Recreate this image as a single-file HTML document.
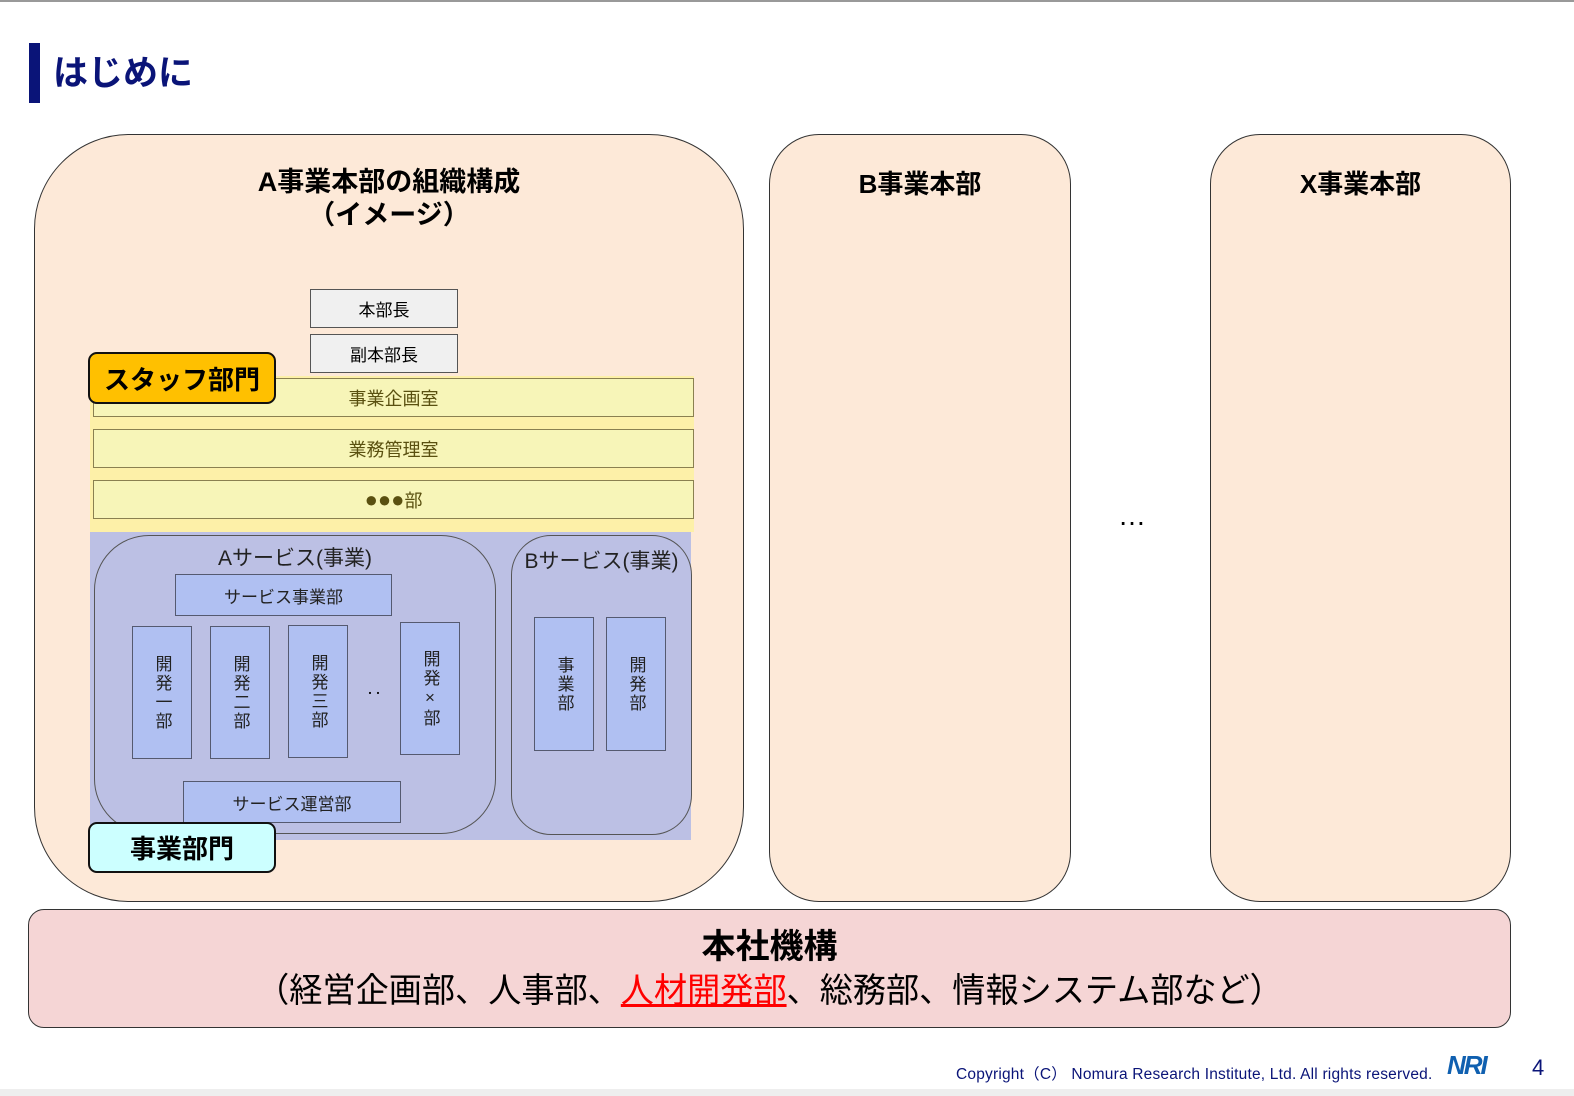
<!DOCTYPE html>
<html><head><meta charset="utf-8"><style>
body{margin:0;width:1574px;height:1096px;position:relative;background:#fff;font-family:"Liberation Sans","Noto Sans CJK JP",sans-serif;overflow:hidden}
div{position:absolute;box-sizing:border-box}
.c{display:flex;align-items:center;justify-content:center;text-align:center}
.bx{background:#b0c0f2;border:1.5px solid #555a70;font-size:17px;color:#222}
.v{writing-mode:vertical-rl;letter-spacing:2px}
.y{background:#f7f5b8;border:1.5px solid #8a8050;color:#5a5010;font-size:18px}
</style></head><body>
<div style="left:0;top:0;width:1574px;height:2px;background:#999"></div>
<div style="left:0;top:1089px;width:1574px;height:7px;background:#eee"></div>
<div style="left:29px;top:43px;width:11px;height:60px;background:#0a1478"></div>
<div style="left:53px;top:48px;font-size:35px;font-weight:bold;color:#0a1478;line-height:52px">はじめに</div>

<div style="left:34px;top:134px;width:710px;height:768px;border-radius:95px;background:#fde9d8;border:1.5px solid #333"></div>
<div class="c" style="left:34px;top:166px;width:710px;font-size:27px;font-weight:bold;line-height:33px;flex-direction:column">A事業本部の組織構成<br>（イメージ）</div>
<div style="left:769px;top:134px;width:302px;height:768px;border-radius:50px;background:#fde9d8;border:1.5px solid #333"></div>
<div class="c" style="left:769px;top:166px;width:302px;font-size:26px;font-weight:bold;line-height:36px">B事業本部</div>
<div style="left:1210px;top:134px;width:301px;height:768px;border-radius:50px;background:#fde9d8;border:1.5px solid #333"></div>
<div class="c" style="left:1210px;top:166px;width:301px;font-size:26px;font-weight:bold;line-height:36px">X事業本部</div>
<div style="left:1118px;top:500px;font-size:28px;letter-spacing:6px">…</div>

<div class="c" style="left:310px;top:289px;width:148px;height:39px;background:#f0f0f0;border:1.5px solid #555;font-size:17px">本部長</div>
<div class="c" style="left:310px;top:334px;width:148px;height:39px;background:#f0f0f0;border:1.5px solid #555;font-size:17px">副本部長</div>

<div style="left:90px;top:376px;width:604px;height:156px;background:#fdf0a8"></div>
<div class="c y" style="left:93px;top:378px;width:601px;height:39px">事業企画室</div>
<div class="c y" style="left:93px;top:429px;width:601px;height:39px">業務管理室</div>
<div class="c y" style="left:93px;top:480px;width:601px;height:39px"><span style="font-size:22px">●●●</span>部</div>
<div class="c" style="left:88px;top:352px;width:188px;height:52px;background:#ffc000;border:2px solid #111;border-radius:9px;font-size:26px;font-weight:bold">スタッフ部門</div>

<div style="left:90px;top:532px;width:601px;height:308px;background:#bcc0e4"></div>
<div style="left:94px;top:535px;width:402px;height:299px;border-radius:55px;border:1.2px solid #555"></div>
<div style="left:511px;top:535px;width:181px;height:300px;border-radius:40px;border:1.2px solid #555"></div>
<div class="c" style="left:94px;top:542px;width:402px;font-size:21px;color:#222">Aサービス(事業)</div>
<div class="c" style="left:511px;top:545px;width:181px;font-size:21px;color:#222">Bサービス(事業)</div>
<div class="c bx" style="left:175px;top:574px;width:217px;height:42px">サービス事業部</div>
<div class="c bx" style="left:132px;top:626px;width:60px;height:133px"><span class="v">開発一部</span></div>
<div class="c bx" style="left:210px;top:626px;width:60px;height:133px"><span class="v">開発二部</span></div>
<div class="c bx" style="left:288px;top:625px;width:60px;height:133px"><span class="v">開発三部</span></div>
<div style="left:366px;top:680px;font-size:16px">‥</div>
<div class="c bx" style="left:400px;top:622px;width:60px;height:133px"><span class="v">開発×部</span></div>
<div class="c bx" style="left:183px;top:781px;width:218px;height:42px">サービス運営部</div>
<div class="c bx" style="left:534px;top:617px;width:60px;height:134px"><span class="v">事業部</span></div>
<div class="c bx" style="left:606px;top:617px;width:60px;height:134px"><span class="v">開発部</span></div>
<div class="c" style="left:88px;top:822px;width:188px;height:51px;background:#ccffff;border:2px solid #111;border-radius:9px;font-size:26px;font-weight:bold">事業部門</div>

<div style="left:28px;top:909px;width:1483px;height:119px;border-radius:16px;background:#f5d5d5;border:1.5px solid #333"></div>
<div class="c" style="left:28px;top:926px;width:1483px;font-size:34px;font-weight:bold;line-height:42px">本社機構</div>
<div class="c" style="left:28px;top:969px;width:1483px;font-size:34px;line-height:44px"><span style="display:inline-block;transform:scaleX(0.975)">（経営企画部、人事部、<span style="color:#f00;text-decoration:underline">人材開発部</span>、総務部、情報システム部など）</span></div>

<div style="left:956px;top:1062px;font-size:15.5px;color:#0a1478;letter-spacing:0.2px">Copyright（C） Nomura Research Institute, Ltd. All rights reserved.</div>
<div style="left:1447px;top:1050px;font-size:26px;font-weight:bold;color:#1060b0;letter-spacing:-2px;font-style:italic">NRI</div>
<div style="left:1532px;top:1055px;font-size:22px;color:#0a1478">4</div>
</body></html>
